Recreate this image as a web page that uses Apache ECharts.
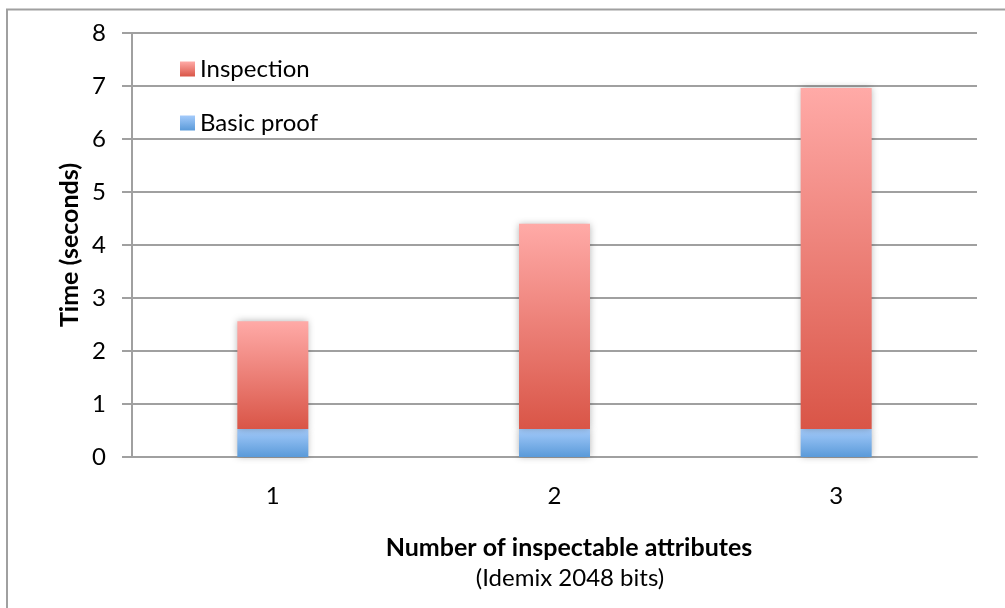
<!DOCTYPE html>
<html>
<head>
<meta charset="utf-8">
<script src="https://cdn.jsdelivr.net/npm/echarts@6/dist/echarts.min.js"></script>
<style>
  html, body { margin: 0; padding: 0; background: #fff; }
  #chart { width: 1005px; height: 608px; }
</style>
</head>
<body>
<div id="chart"></div>
<script>
// Proof generation time, split into the basic proof and the inspection part
const categories = ['1', '2', '3'];
const basicProof = [0.53, 0.53, 0.53];
const inspection = [2.03, 3.87, 6.43];
const yTicks = { min: 0, max: 8, step: 1 };

const FONT = 'Lato, "Open Sans", sans-serif';
const GRID_GRAY = '#a0a0a0';

function vGrad(top, bottom) {
  return new echarts.graphic.LinearGradient(0, 0, 0, 1, [
    { offset: 0, color: top },
    { offset: 1, color: bottom }
  ]);
}

const chart = echarts.init(document.getElementById('chart'), null, { renderer: 'canvas' });

chart.setOption({
  backgroundColor: '#ffffff',
  animation: false,
  textStyle: { fontFamily: FONT },
  grid: { left: 132, right: 28, top: 33, bottom: 151, containLabel: false },
  legend: {
    orient: 'vertical',
    left: 175,
    top: 52,
    itemWidth: 15,
    itemHeight: 15,
    itemGap: 30,
    icon: 'rect',
    data: ['Inspection', 'Basic proof'],
    textStyle: { fontFamily: FONT, fontSize: 24, color: '#000' },
    itemStyle: { shadowBlur: 0 }
  },
  xAxis: {
    type: 'category',
    data: categories,
    axisLine: { lineStyle: { color: GRID_GRAY, width: 2 } },
    axisTick: { show: false },
    axisLabel: { fontFamily: FONT, fontSize: 24, color: '#000', margin: 27 }
  },
  yAxis: {
    type: 'value',
    min: yTicks.min,
    max: yTicks.max,
    interval: yTicks.step,
    axisLine: { show: true, lineStyle: { color: GRID_GRAY, width: 2 } },
    axisTick: { show: true, length: 10, lineStyle: { color: GRID_GRAY, width: 2 } },
    splitLine: { lineStyle: { color: GRID_GRAY, width: 2 } },
    axisLabel: { fontFamily: FONT, fontSize: 24, color: '#000', margin: 26 }
  },
  series: [
    {
      name: 'Basic proof',
      type: 'bar',
      stack: 'time',
      barWidth: 71,
      data: basicProof,
      itemStyle: {
        color: vGrad('#a4cbfb', '#5a9ad9'),
        shadowBlur: 7,
        shadowColor: 'rgba(0,0,0,0.3)'
      }
    },
    {
      name: 'Inspection',
      type: 'bar',
      stack: 'time',
      barWidth: 71,
      data: inspection,
      itemStyle: {
        color: vGrad('#ffaaa7', '#d95547'),
        shadowBlur: 7,
        shadowColor: 'rgba(0,0,0,0.3)'
      }
    }
  ],
  graphic: [
    {
      type: 'rect',
      silent: true,
      z: -1,
      shape: { x: 7, y: 9.5, width: 1200, height: 800 },
      style: { fill: null, stroke: GRID_GRAY, lineWidth: 2 }
    },
    {
      type: 'text',
      x: 70, y: 245,
      rotation: Math.PI / 2,
      style: {
        text: 'Time (seconds)',
        font: 'bold 25px ' + FONT,
        fill: '#000',
        textAlign: 'center',
        textVerticalAlign: 'middle'
      }
    },
    {
      type: 'text',
      x: 569, y: 548,
      style: {
        text: 'Number of inspectable attributes',
        font: 'bold 25px ' + FONT,
        fill: '#000',
        textAlign: 'center',
        textVerticalAlign: 'middle'
      }
    },
    {
      type: 'text',
      x: 570, y: 578,
      style: {
        text: '(Idemix 2048 bits)',
        font: '24px ' + FONT,
        fill: '#000',
        textAlign: 'center',
        textVerticalAlign: 'middle'
      }
    }
  ]
});
</script>
</body>
</html>
